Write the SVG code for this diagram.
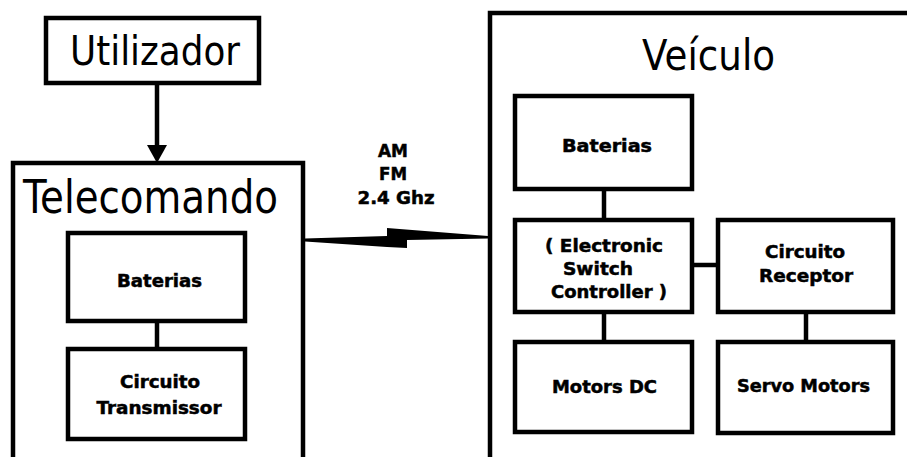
<svg xmlns="http://www.w3.org/2000/svg" width="907" height="457" viewBox="0 0 907 457">
<style>
.box{fill:#fff;stroke:#000;stroke-width:4.5}
.big{font-family:"DejaVu Sans","Liberation Sans",sans-serif;fill:#000}
.lbl{font-family:"DejaVu Sans","Liberation Sans",sans-serif;font-weight:bold;font-size:17px;fill:#000;stroke:#000;stroke-width:0.5;text-anchor:middle}
.ln{stroke:#000;stroke-width:4.5;fill:none}
</style>
<rect width="907" height="457" fill="#fff"/>
<g id="utilizador">
<rect class="box" x="46" y="18" width="213" height="65"/>
<text class="big" x="70" y="65" font-size="41" textLength="170" lengthAdjust="spacingAndGlyphs">Utilizador</text>
</g>
<g id="telecomando">
<rect class="box" x="13" y="163" width="290" height="310"/>
<text class="big" x="23" y="213" font-size="47" textLength="255" lengthAdjust="spacingAndGlyphs">Telecomando</text>
</g>
<g id="tele-baterias">
<rect class="box" x="68" y="233" width="177" height="88"/>
<text class="lbl" x="159.5" y="287" textLength="85" lengthAdjust="spacingAndGlyphs">Baterias</text>
</g>
<g id="tele-transmissor">
<rect class="box" x="68" y="349" width="177" height="90"/>
<text class="lbl" x="160" y="388" textLength="80" lengthAdjust="spacingAndGlyphs">Circuito</text>
<text class="lbl" x="159" y="414" textLength="125" lengthAdjust="spacingAndGlyphs">Transmissor</text>
</g>
<g id="freq">
<text class="lbl" x="393" y="157" textLength="30" lengthAdjust="spacingAndGlyphs">AM</text>
<text class="lbl" x="393" y="180" textLength="28" lengthAdjust="spacingAndGlyphs">FM</text>
<text class="lbl" x="396" y="204" textLength="77" lengthAdjust="spacingAndGlyphs">2.4 Ghz</text>
</g>
<g id="veiculo">
<rect class="box" x="490" y="13" width="440" height="460"/>
<text class="big" x="642" y="70" font-size="42" textLength="133" lengthAdjust="spacingAndGlyphs">Veículo</text>
</g>
<g id="veic-baterias">
<rect class="box" x="515" y="96" width="177" height="93"/>
<text class="lbl" x="607" y="152" textLength="90" lengthAdjust="spacingAndGlyphs">Baterias</text>
</g>
<g id="esc">
<rect class="box" x="515" y="220" width="177" height="92"/>
<text class="lbl" x="604" y="252" textLength="118" lengthAdjust="spacingAndGlyphs">( Electronic</text>
<text class="lbl" x="598" y="275" textLength="70" lengthAdjust="spacingAndGlyphs">Switch</text>
<text class="lbl" x="609" y="298" textLength="116" lengthAdjust="spacingAndGlyphs">Controller )</text>
</g>
<g id="receptor">
<rect class="box" x="718" y="220" width="175" height="92"/>
<text class="lbl" x="805" y="258" textLength="80" lengthAdjust="spacingAndGlyphs">Circuito</text>
<text class="lbl" x="806" y="282" textLength="94" lengthAdjust="spacingAndGlyphs">Receptor</text>
</g>
<g id="motors-dc">
<rect class="box" x="515" y="342" width="177" height="90"/>
<text class="lbl" x="604.5" y="393" textLength="105" lengthAdjust="spacingAndGlyphs">Motors DC</text>
</g>
<g id="servo">
<rect class="box" x="718" y="342" width="175" height="91"/>
<text class="lbl" x="803.5" y="392" textLength="133" lengthAdjust="spacingAndGlyphs">Servo Motors</text>
</g>
<g id="connectors">
<line class="ln" x1="157" y1="85" x2="157" y2="148"/>
<path d="M147,145 L167,145 L157,163 Z" fill="#000"/>
<line class="ln" x1="157" y1="321" x2="157" y2="349"/>
<line class="ln" x1="604" y1="189" x2="604" y2="220"/>
<line class="ln" x1="692" y1="265" x2="718" y2="265"/>
<line class="ln" x1="604" y1="312" x2="604" y2="342"/>
<line class="ln" x1="806" y1="312" x2="806" y2="342"/>
<polygon points="305,238.5 387,236 387,228 488,236 488,238.5 407,240 407,248 387,247 305,241.5" fill="#000"/>
</g>
</svg>
